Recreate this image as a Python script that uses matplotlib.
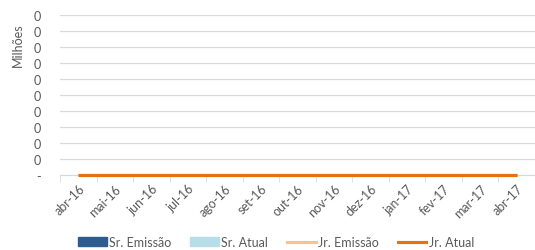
import matplotlib.pyplot as plt
import numpy as np
from matplotlib.patches import Patch
from matplotlib.lines import Line2D

plt.rcParams['font.family'] = ['Lato', 'DejaVu Sans']

meses = ["abr-16", "mai-16", "jun-16", "jul-16", "ago-16", "set-16", "out-16",
         "nov-16", "dez-16", "jan-17", "fev-17", "mar-17", "abr-17"]
sr_emissao = [0]*13
sr_atual = [0]*13
jr_emissao = [0]*13
jr_atual = [0]*13

c_sr_em, c_sr_at = "#2E5C8E", "#B7DEE8"
c_jr_em, c_jr_at = "#FFC08A", "#E8700F"
cinza = "#595959"

fig = plt.figure(figsize=(5.35, 2.51), dpi=100)
ax = fig.add_axes([60/535, 1-176/251, 475/535, 160/251])

x = np.arange(len(meses))
ax.bar(x-0.2, sr_emissao, 0.4, color=c_sr_em)
ax.bar(x+0.2, sr_atual, 0.4, color=c_sr_at)
ax.plot(x, jr_emissao, color=c_jr_em, linewidth=2.25, solid_capstyle="butt",
        zorder=4, clip_on=False)
ax.plot(x, jr_atual, color=c_jr_at, linewidth=2.25, solid_capstyle="butt",
        zorder=5, clip_on=False)

ax.set_xlim(-0.5, len(meses)-0.5)
ax.set_ylim(0, 10)
ax.set_yticks(range(11))
ax.set_yticklabels(["-"] + ["0"]*10, fontsize=9, color=cinza)
ax.grid(axis="y", color="#D9D9D9", linewidth=0.9)
ax.set_axisbelow(True)
ax.tick_params(axis="y", length=0, pad=14)

ax.set_xticks(x)
ax.set_xticklabels(meses, rotation=45, ha="right", rotation_mode="anchor",
                   fontsize=9, color=cinza)
ax.set_xticks(np.arange(len(meses)+1)-0.5, minor=True)
ax.tick_params(axis="x", which="major", length=0, pad=5)
ax.tick_params(axis="x", which="minor", length=5, color="#D9D9D9")

for s in ["top", "right", "left"]:
    ax.spines[s].set_visible(False)
ax.spines["bottom"].set_color("#D9D9D9")

fig.text(18/535, 1-45/251, "Milhões", rotation=90, ha="center", va="center",
         fontsize=9, color=cinza)

handles = [Patch(color=c_sr_em), Patch(color=c_sr_at),
           Line2D([], [], color=c_jr_em, linewidth=2.25),
           Line2D([], [], color=c_jr_at, linewidth=2.25)]
labels = ["Sr. Emissão", "Sr. Atual", "Jr. Emissão", "Jr. Atual"]
leg = fig.legend(handles, labels, loc="center", bbox_to_anchor=(276/535, 1-243/251),
                 ncol=4, frameon=False, fontsize=9, handlelength=2.3,
                 handleheight=0.7, handletextpad=0.2, columnspacing=1.5)
for t in leg.get_texts():
    t.set_color(cinza)

fig.savefig("out.png", dpi=100)
